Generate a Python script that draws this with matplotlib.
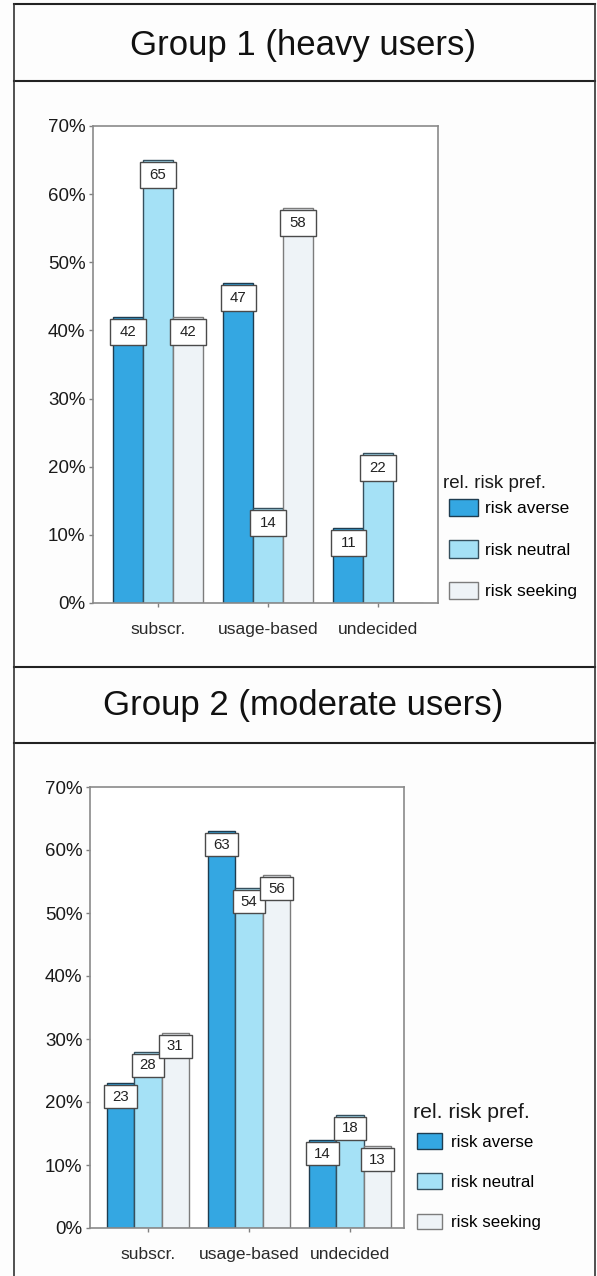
import numpy as np
import matplotlib.pyplot as plt
from matplotlib.patches import Rectangle, Patch
from matplotlib.lines import Line2D
from matplotlib.ticker import PercentFormatter

plt.rcParams['font.family'] = ['Liberation Sans', 'DejaVu Sans']

categories = ['subscr.', 'usage-based', 'undecided']
series_names = ['risk averse', 'risk neutral', 'risk seeking']

# percent of each risk-preference group choosing a tariff
g1_averse = [42, 47, 11]
g1_neutral = [65, 14, 22]
g1_seeking = [42, 58, 0]

g2_averse = [23, 63, 14]
g2_neutral = [28, 54, 18]
g2_seeking = [31, 56, 13]

colors = ['#34a7e2', '#a5e1f6', '#eef3f7']
edges = ['#1e3c50', '#36505e', '#7c7c7c']

W, H = 597, 1276
fig = plt.figure(figsize=(W / 100, H / 100), dpi=100)
fig.patch.set_facecolor('#fdfdfd')


def fx(px):
    return px / W


def fy(px):
    return 1 - px / H


def draw_panel(ax, series, xlim, box_h):
    x = np.arange(len(categories))
    bw = 0.27
    for k, vals in enumerate(series):
        off = (k - 1) * bw
        ax.bar(x + off, vals, bw, color=colors[k], edgecolor=edges[k], linewidth=1.0, zorder=2)
        for xi, v in zip(x + off, vals):
            if v == 0:
                continue
            ax.add_patch(Rectangle((xi - bw * 0.6, v - 0.35 - box_h), bw * 1.2, box_h,
                                   facecolor='white', edgecolor='#4a4a4a', linewidth=1.0, zorder=3))
            ax.text(xi, v - 0.35 - box_h / 2, str(v), ha='center', va='center',
                    fontsize=10.8, color='#222222', zorder=4)
    ax.set_xlim(*xlim)
    ax.set_ylim(0, 70)
    ax.set_yticks(range(0, 71, 10))
    ax.yaxis.set_major_formatter(PercentFormatter(xmax=100, decimals=0))
    ax.set_xticks(x)
    ax.set_xticklabels(categories)
    ax.tick_params(axis='y', length=3, width=1, color='#808080', pad=2.5, labelsize=13.5, labelcolor='#1a1a1a')
    ax.tick_params(axis='x', length=3, width=1, color='#808080', pad=10.5, labelsize=12.5, labelcolor='#2a2a2a')
    for s in ax.spines.values():
        s.set_color('#8a8a8a')
        s.set_linewidth(1.2)
    ax.set_facecolor('white')


# panel 1
ax1 = fig.add_axes([fx(93), fy(603), fx(438) - fx(93), (603 - 126) / H])
draw_panel(ax1, [g1_averse, g1_neutral, g1_seeking], (-0.591, 2.545), 3.8)

# panel 2
ax2 = fig.add_axes([fx(90), fy(1228), fx(404) - fx(90), (1228 - 787) / H])
draw_panel(ax2, [g2_averse, g2_neutral, g2_seeking], (-0.574, 2.535), 3.65)

handles = [Patch(facecolor=colors[k], edgecolor=edges[k], linewidth=1.0) for k in range(3)]

fig.text(fx(443), fy(483), 'rel. risk pref.', ha='left', va='center', fontsize=13.5, color='#1a1a1a')
fig.legend(handles, series_names, loc='upper left', bbox_to_anchor=(fx(449), fy(499)),
           frameon=False, borderpad=0, borderaxespad=0, fontsize=12.5,
           handlelength=1.67, handleheight=1.15, handletextpad=0.4, labelspacing=1.37)

fig.text(fx(413), fy(1112), 'rel. risk pref.', ha='left', va='center', fontsize=15.3, color='#1a1a1a')
fig.legend(handles, series_names, loc='upper left', bbox_to_anchor=(fx(417), fy(1133)),
           frameon=False, borderpad=0, borderaxespad=0, fontsize=12.2,
           handlelength=1.48, handleheight=1.04, handletextpad=0.53, labelspacing=1.4)

# titles and frame
fig.text(fx(303), fy(55), 'Group 1 (heavy users)', ha='center', va='baseline', fontsize=25, color='#111111')
fig.text(fx(303), fy(715), 'Group 2 (moderate users)', ha='center', va='baseline', fontsize=25, color='#111111')

for yy in [4, 81, 667, 743]:
    fig.add_artist(Line2D([fx(14), fx(595)], [fy(yy), fy(yy)], color='#222222', linewidth=1.5))
for xx in [14, 595]:
    fig.add_artist(Line2D([fx(xx), fx(xx)], [fy(4), 0], color='#333333', linewidth=1.2))

fig.savefig('out.png', dpi=100)
